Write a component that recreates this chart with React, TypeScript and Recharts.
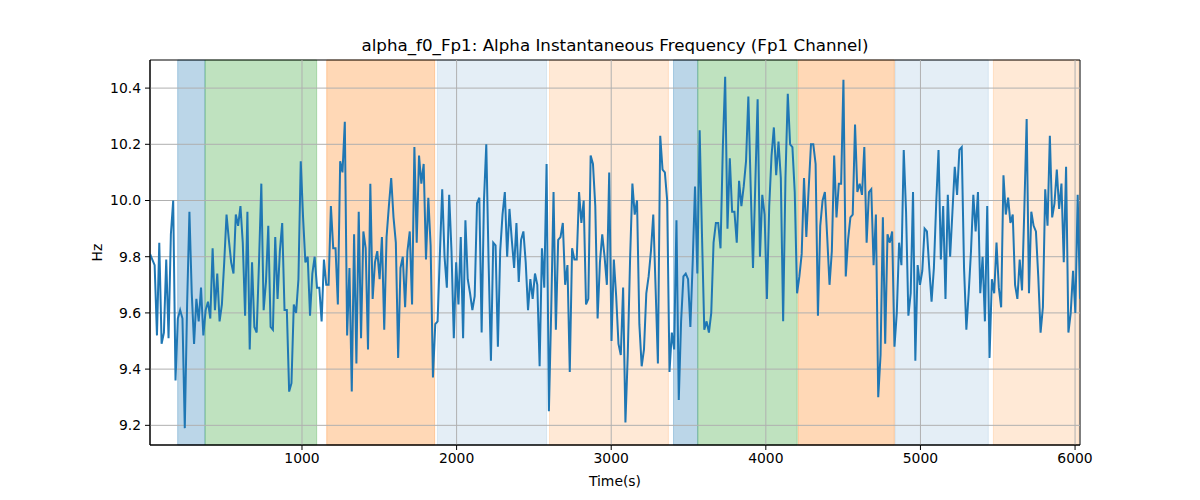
import React from 'react';
import { LineChart, Line, XAxis, YAxis, ReferenceArea, ReferenceLine, Label } from 'recharts';

const T0 = 17;
const DT = 15;
const Y_MIN = 9.13;
const Y_MAX = 10.5;

const values: number[] = [
  9.81, 9.79, 9.77, 9.52, 9.85, 9.49, 9.53, 9.79, 9.51, 9.88,
  10.00, 9.36, 9.58, 9.61, 9.58, 9.19, 9.63, 9.96, 9.67, 9.49,
  9.65, 9.57, 9.69, 9.52, 9.61, 9.64, 9.58, 9.83, 9.61, 9.74,
  9.57, 9.63, 9.78, 9.95, 9.86, 9.78, 9.74, 9.95, 9.91, 9.98,
  9.85, 9.59, 9.96, 9.47, 9.78, 9.55, 9.53, 9.78, 10.06, 9.61,
  9.71, 9.91,
  9.55, 9.54, 9.87, 9.65, 9.82, 9.92, 9.61, 9.61, 9.32, 9.35,
  9.63, 9.60, 9.72, 10.14, 9.94, 9.78, 9.80, 9.59, 9.74, 9.80,
  9.69, 9.69, 9.57, 9.79, 9.70, 9.70, 9.98, 9.83, 9.83, 9.63,
  10.14, 10.10, 10.28, 9.52, 9.76, 9.32, 9.88, 9.42, 9.96, 9.51,
  9.89, 9.83, 9.47, 10.06, 9.65, 9.78, 9.82, 9.72, 9.87, 9.54,
  9.87, 9.98,
  10.08, 9.94, 9.85, 9.44, 9.76, 9.80, 9.62, 9.82, 9.89, 9.63,
  10.19, 9.85, 10.16, 10.06, 10.13, 9.79, 10.01, 9.84, 9.37, 9.56,
  9.57, 9.81, 10.04, 9.80, 9.69, 10.02, 9.82, 9.51, 9.78, 9.63,
  9.87, 9.51, 9.93, 9.72, 9.67, 9.61, 9.66, 9.99, 10.01, 9.53,
  10.00, 10.20, 9.78, 9.43, 9.85, 9.84, 9.48, 9.82, 9.95, 10.03,
  9.80, 9.97,
  9.86, 9.76, 9.92, 9.71, 9.86, 9.89, 9.78, 9.61, 9.72, 9.65,
  9.74, 9.70, 9.41, 9.83, 9.69, 10.13, 9.25, 9.61, 10.03, 9.54,
  9.86, 9.87, 9.92, 9.70, 9.77, 9.39, 9.83, 9.79, 9.79, 10.03,
  9.92, 10.00, 9.63, 9.65, 10.16, 10.13, 9.98, 9.58, 9.78, 9.88,
  9.80, 9.70, 10.10, 9.50, 9.79, 9.66, 9.49, 9.45, 9.69, 9.21,
  9.45,
  9.79, 10.06, 9.95, 10.00, 9.56, 9.41, 9.47, 9.67, 9.73, 9.82,
  9.95, 9.69, 9.42, 10.23, 10.11, 10.10, 10.00, 9.39, 9.53, 9.47,
  9.93, 9.29, 9.57, 9.73, 9.74, 9.72, 9.55, 9.78, 10.05, 9.74,
  10.25, 9.88, 9.54, 9.57, 9.53, 9.60, 9.85, 9.92, 9.92, 9.83,
  10.19, 10.44, 9.90, 10.15, 9.96, 9.96, 9.85, 10.07, 9.98, 10.05,
  10.14, 10.37,
  10.05, 9.76, 10.06, 10.36, 9.80, 10.02, 9.95, 9.65, 9.98, 10.16,
  10.26, 10.09, 10.21, 10.08, 9.57, 10.08, 10.38, 10.20, 10.19, 10.03,
  9.67, 9.73, 9.81, 10.08, 9.87, 10.04, 10.20, 10.20, 10.13, 9.59,
  9.91, 10.00, 10.03, 9.87, 9.70, 9.82, 10.16, 9.94, 10.06, 10.06,
  10.43, 9.73, 9.86, 9.94, 9.95, 10.27, 10.03, 10.06, 10.02, 10.19,
  9.85, 10.03,
  10.04, 9.77, 9.95, 9.30, 9.45, 9.94, 9.49, 9.88, 9.85, 9.89,
  9.48, 9.60, 9.85, 9.77, 10.18, 9.96, 9.59, 9.67, 10.03, 9.43,
  9.77, 9.70, 9.75, 9.90, 9.89, 9.76, 9.64, 9.76, 9.99, 10.18,
  9.79, 9.98, 9.65, 10.02, 9.80, 9.96, 10.12, 10.02, 10.18, 10.19,
  9.76, 9.54, 9.67, 9.82, 10.02, 9.89, 10.03, 9.67, 9.80, 9.57,
  9.98, 9.44,
  9.72, 9.67, 9.85, 9.69, 9.62, 10.09, 9.95, 10.01, 9.92, 9.95,
  9.70, 9.65, 9.79, 9.68, 9.97, 10.29, 9.67, 9.96, 9.91, 9.89,
  9.73, 9.53, 9.62, 10.04, 9.91, 10.23, 9.94, 9.99, 10.11, 9.97,
  10.06, 9.78, 10.12, 9.53, 9.60, 9.75, 9.60, 10.02, 9.65,
];

const T_END = T0 + DT * (values.length - 1);

const xTicks = [1000, 2000, 3000, 4000, 5000, 6000];
const yTicks = [9.2, 9.4, 9.6, 9.8, 10.0, 10.2, 10.4];

const spanStarts = [196, 373, 1160, 1876, 2601, 3403, 3560, 4210, 4836, 5472];
const spanEnds = [373, 1095, 1858, 2582, 3370, 3560, 4203, 4831, 5439, 6023];
const spanColors = ['#1f77b4', '#2ca02c', '#ff7f0e', '#1f77b4', '#ff7f0e', '#1f77b4', '#2ca02c', '#ff7f0e', '#1f77b4', '#ff7f0e'];
const spanAlphas = [0.3, 0.3, 0.3, 0.12, 0.17, 0.3, 0.3, 0.3, 0.12, 0.17];

const data = values.map((v, i) => ({ t: T0 + DT * i, v }));

const FONT = 'DejaVu Sans, sans-serif';

export default function App() {
  return (
    <div style={{ position: 'absolute', left: 0, top: 0, width: 1200, height: 500, background: '#fff', fontFamily: FONT }}>
      <div style={{ position: 'absolute', left: 150, width: 930, top: 35, textAlign: 'center', fontSize: 16.7, color: '#000', lineHeight: '20px' }}>
        alpha_f0_Fp1: Alpha Instantaneous Frequency (Fp1 Channel)
      </div>
      <LineChart width={1200} height={500} data={data} margin={{ top: 60, right: 120, bottom: 10, left: 90 }}>
        <XAxis
          dataKey="t"
          type="number"
          domain={[T0, T_END]}
          ticks={xTicks}
          allowDataOverflow
          height={45}
          tickSize={5}
          tickMargin={3}
          axisLine={{ stroke: '#000' }}
          tickLine={{ stroke: '#000' }}
          tick={{ fill: '#000', fontSize: 13.9, fontFamily: FONT }}
        >
          <Label value="Time(s)" position="insideBottom" offset={4} style={{ fill: '#000', fontSize: 13.9, fontFamily: FONT }} />
        </XAxis>
        <YAxis
          type="number"
          domain={[Y_MIN, Y_MAX]}
          ticks={yTicks}
          allowDataOverflow
          width={60}
          tickSize={5}
          tickMargin={4}
          tickFormatter={(v: number) => v.toFixed(1)}
          axisLine={{ stroke: '#000' }}
          tickLine={{ stroke: '#000' }}
          tick={{ fill: '#000', fontSize: 13.9, fontFamily: FONT }}
        >
          <Label value="Hz" angle={-90} position="insideLeft" offset={7} style={{ fill: '#000', fontSize: 13.9, fontFamily: FONT, textAnchor: 'middle' }} />
        </YAxis>
        {spanStarts.map((s, i) => (
          <ReferenceArea
            key={'span' + i}
            x1={s}
            x2={spanEnds[i]}
            y1={Y_MIN}
            y2={Y_MAX}
            fill={spanColors[i]}
            fillOpacity={spanAlphas[i]}
            stroke={spanColors[i]}
            strokeOpacity={spanAlphas[i]}
            strokeWidth={1}
          />
        ))}
        {xTicks.map((t) => (
          <ReferenceLine key={'gx' + t} x={t} stroke="#b0b0b0" strokeWidth={1} />
        ))}
        {yTicks.map((t) => (
          <ReferenceLine key={'gy' + t} y={t} stroke="#b0b0b0" strokeWidth={1} />
        ))}
        <Line dataKey="v" type="linear" stroke="#1f77b4" strokeWidth={2} dot={false} isAnimationActive={false} />
        <ReferenceArea x1={T0} x2={T_END} y1={Y_MIN} y2={Y_MAX} fill="none" stroke="#000" strokeWidth={1} />
      </LineChart>
    </div>
  );
}
